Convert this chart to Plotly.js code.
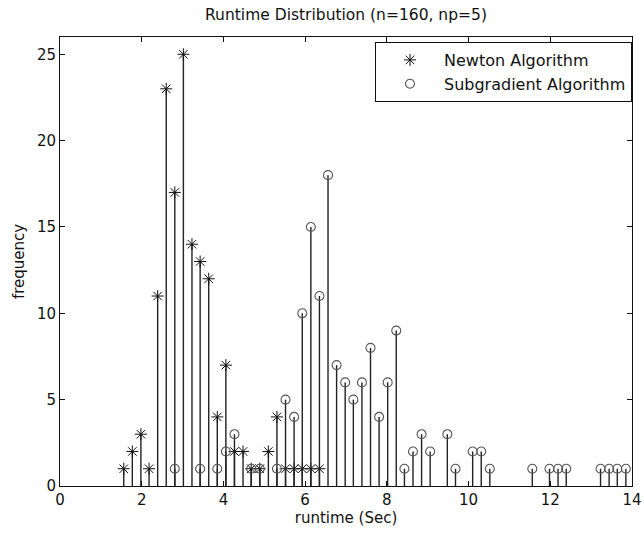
<!DOCTYPE html>
<html>
<head>
<meta charset="utf-8">
<script src="https://cdn.plot.ly/plotly-3.0.1.min.js"></script>
<style>
  html, body { margin: 0; padding: 0; background: #ffffff; }
  #chart { width: 644px; height: 536px; }
</style>
</head>
<body>
<div id="chart"></div>
<script>
// Runtime bins (seconds) and frequencies
const newtonRuntime = [1.56, 1.77, 1.98, 2.18, 2.39, 2.60, 2.81, 3.02, 3.23, 3.43, 3.64, 3.85,
                       4.06, 4.27, 4.48, 4.68, 4.89, 5.10, 5.31, 5.52, 5.73, 5.93, 6.14, 6.35];
const newtonFreq    = [1, 2, 3, 1, 11, 23, 17, 25, 14, 13, 12, 4,
                       7, 2, 2, 1, 1, 2, 4, 1, 1, 1, 1, 1];

const subgradRuntime = [2.81, 3.43, 3.85, 4.06, 4.27, 4.68, 4.89, 5.31, 5.52, 5.73,
                        5.93, 6.14, 6.35, 6.56, 6.77, 6.98, 7.18, 7.39, 7.60, 7.81,
                        8.02, 8.23, 8.43, 8.64, 8.85, 9.06, 9.48, 9.68, 10.10, 10.31,
                        10.52, 11.56, 11.98, 12.19, 12.39, 13.23, 13.44, 13.64, 13.85];
const subgradFreq    = [1, 1, 1, 2, 3, 1, 1, 1, 5, 4,
                        10, 15, 11, 18, 7, 6, 5, 6, 8, 4,
                        6, 9, 1, 2, 3, 2, 3, 1, 2, 2,
                        1, 1, 1, 1, 1, 1, 1, 1, 1];

const xTicks = [0, 2, 4, 6, 8, 10, 12, 14];
const yTicks = [0, 5, 10, 15, 20, 25];

const seriesNames = ['Newton Algorithm', 'Subgradient Algorithm'];
const chartTitle = 'Runtime Distribution (n=160, np=5)';
const xLabel = 'runtime (Sec)';
const yLabel = 'frequency';

const FONT = 'DejaVu Sans, Liberation Sans, Arial, sans-serif';
const INK = '#111111';

function stems(vals) {
  return {
    type: 'data', symmetric: false,
    array: vals.map(() => 0), arrayminus: vals,
    width: 0, thickness: 1.4, color: '#222222'
  };
}

const traces = [
  {
    type: 'scatter', mode: 'markers', name: seriesNames[0],
    x: newtonRuntime, y: newtonFreq,
    marker: { symbol: 'asterisk-open', size: 10, color: INK, line: { width: 1.0, color: INK } },
    error_y: stems(newtonFreq),
    cliponaxis: false
  },
  {
    type: 'scatter', mode: 'markers', name: seriesNames[1],
    x: subgradRuntime, y: subgradFreq,
    marker: { symbol: 'circle-open', size: 9, color: '#555555', line: { width: 1.1, color: '#555555' } },
    error_y: stems(subgradFreq),
    cliponaxis: false
  }
];

const axisCommon = {
  showline: true, linecolor: INK, linewidth: 1, mirror: 'ticks',
  ticks: 'inside', ticklen: 5, tickwidth: 1, tickcolor: INK,
  showgrid: false, zeroline: false,
  tickfont: { family: FONT, size: 15, color: INK }
};

const layout = {
  width: 644, height: 536,
  margin: { l: 60, r: 12, t: 37, b: 50, pad: 0 },
  paper_bgcolor: '#ffffff', plot_bgcolor: '#ffffff',
  font: { family: FONT, color: INK },
  title: {
    text: chartTitle, font: { family: FONT, size: 15.5, color: INK },
    xref: 'paper', x: 0.5, xanchor: 'center',
    yref: 'container', y: 1 - 15 / 536, yanchor: 'middle'
  },
  xaxis: Object.assign({}, axisCommon, {
    range: [0, 14], tickmode: 'array', tickvals: xTicks, ticktext: xTicks.map(String),
    title: { text: xLabel, font: { family: FONT, size: 15, color: INK }, standoff: 4 }
  }),
  yaxis: Object.assign({}, axisCommon, {
    range: [0, 26], tickmode: 'array', tickvals: yTicks, ticktext: yTicks.map(String),
    title: { text: yLabel, font: { family: FONT, size: 15, color: INK }, standoff: 8 }
  }),
  showlegend: true,
  legend: {
    x: (375 - 60) / 572, y: 1 - (42 - 37) / 449, xanchor: 'left', yanchor: 'top',
    bgcolor: '#ffffff', bordercolor: INK, borderwidth: 1,
    font: { family: FONT, size: 16, color: INK },
    itemwidth: 58, tracegroupgap: 0
  }
};

Plotly.newPlot('chart', traces, layout, { staticPlot: true, displayModeBar: false });
</script>
</body>
</html>
